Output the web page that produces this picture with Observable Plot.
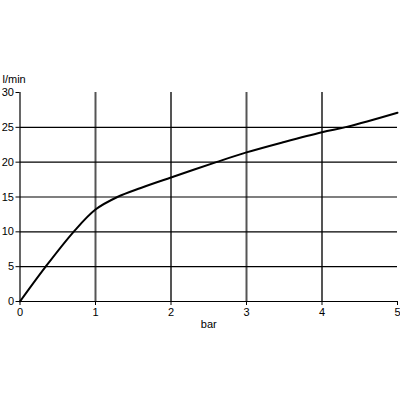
<!DOCTYPE html>
<html><head><meta charset="utf-8">
<script src="https://cdn.jsdelivr.net/npm/d3@7"></script>
<script src="https://cdn.jsdelivr.net/npm/@observablehq/plot@0.6"></script>
<style>body{margin:0;background:#fff}svg{display:block}</style>
</head><body><div id="c"></div>
<script>
const pressure = [0, 0.34, 0.71, 1, 1.29, 1.6, 2, 2.6, 3, 3.5, 4, 4.34, 5];
const flow     = [0, 5, 10, 13.2, 15, 16.3, 17.8, 20, 21.4, 22.9, 24.3, 25.1, 27.1];
const xTicks = [0, 1, 2, 3, 4, 5];
const yTicks = [0, 5, 10, 15, 20, 25, 30];
const xGrid = [1, 2, 3, 4];
const yGrid = [5, 10, 15, 20, 25];
const xLabel = "bar";
const yLabel = "l/min";

const data = pressure.map((p, i) => ({p, q: flow[i]}));

const chart = Plot.plot({
  width: 400, height: 400,
  marginTop: 92, marginBottom: 99, marginLeft: 19.5, marginRight: 3,
  style: {fontFamily: "'Liberation Sans', Arial, sans-serif", fontSize: "11px", color: "#000", background: "#fff"},
  x: {domain: [0, 5]},
  y: {domain: [0, 30]},
  marks: [
    Plot.ruleX(xGrid, {y1: 0, y2: 30, stroke: "#555", strokeWidth: 2}),
    Plot.ruleY(yGrid, {x1: 0, x2: 5, stroke: "#000", strokeWidth: 1.2}),
    Plot.ruleX([0], {y1: 0, y2: 30, stroke: "#000", strokeWidth: 1.2}),
    Plot.ruleY([0], {x1: 0, x2: 5, stroke: "#000", strokeWidth: 1.2}),
    Plot.axisX({ticks: xTicks, tickSize: 4, tickPadding: 3, tickFormat: d => d, label: xLabel, labelAnchor: "center", labelArrow: "none", labelOffset: 26}),
    Plot.axisY({ticks: yTicks, tickSize: 4, tickPadding: 2, tickFormat: d => d, label: null}),
    Plot.text([yLabel], {frameAnchor: "top-left", text: d => d, dx: -17.5, dy: -17, textAnchor: "start", fill: "#000"}),
    Plot.line(data, {x: "p", y: "q", curve: "catmull-rom", stroke: "#000", strokeWidth: 2})
  ]
});
document.getElementById("c").append(chart);
</script>
</body></html>
